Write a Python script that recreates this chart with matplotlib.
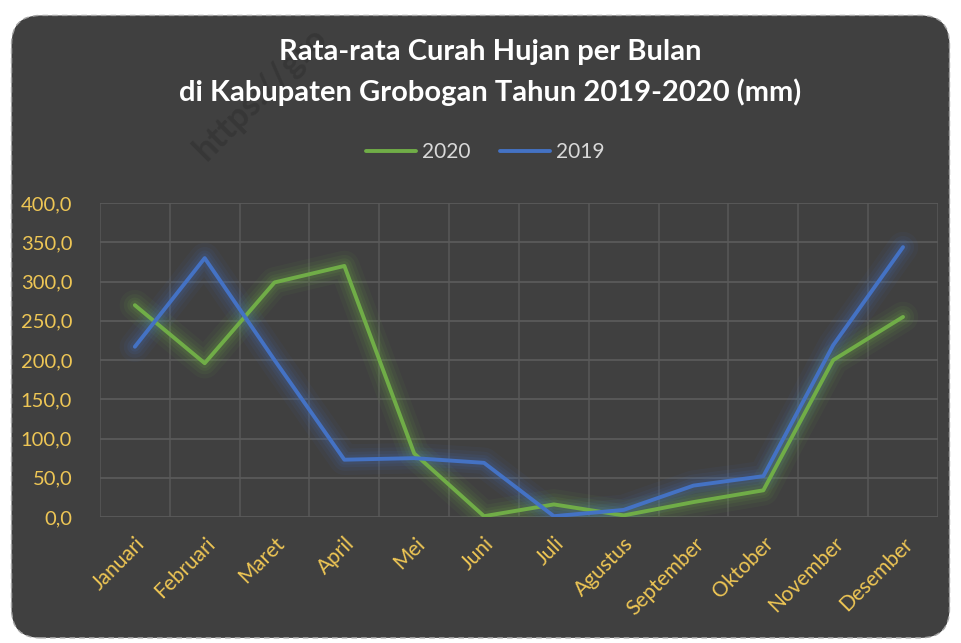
import matplotlib
matplotlib.use("Agg")
import matplotlib.pyplot as plt
from matplotlib.patches import FancyBboxPatch

months = ["Januari", "Februari", "Maret", "April", "Mei", "Juni", "Juli",
          "Agustus", "September", "Oktober", "November", "Desember"]
rain_2020 = [270, 196, 299, 320, 81, 1, 16, 2, 19, 34, 200, 255]
rain_2019 = [217, 330, 200, 73, 75, 69, 1, 9, 40, 52, 219, 344]
yticks = [0, 50, 100, 150, 200, 250, 300, 350, 400]

bg = "#404040"
gold = "#eec655"
green = "#70ad47"
blue = "#4472c4"

plt.rcParams['font.family'] = ['Lato', 'DejaVu Sans']

fig = plt.figure(figsize=(9.61, 6.43), dpi=100)
fig.patch.set_facecolor("white")

# rounded dark card behind everything
card = FancyBboxPatch((0.012, 0.008), 0.976, 0.968,
                      boxstyle="round,pad=0,rounding_size=0.03",
                      transform=fig.transFigure, facecolor=bg,
                      edgecolor="#a6a6a6", linestyle=(0, (4, 3)), linewidth=1.0,
                      mutation_aspect=961 / 643, zorder=-10)
fig.add_artist(card)

ax = fig.add_axes([0.104, 0.196, 0.872, 0.488])
ax.set_facecolor(bg)
x = list(range(len(months)))

# soft glow behind each line
for series, col in [(rain_2020, green), (rain_2019, blue)]:
    for w, a in [(22, 0.06), (16, 0.08), (11, 0.10), (7, 0.12)]:
        ax.plot(x, series, color=col, lw=w, alpha=a, solid_capstyle="round",
                solid_joinstyle="round", zorder=2)

ax.plot(x, rain_2020, color=green, lw=2.8, label="2020", zorder=3,
        solid_capstyle="round")
ax.plot(x, rain_2019, color=blue, lw=2.8, label="2019", zorder=4,
        solid_capstyle="round")

ax.set_xlim(-0.5, len(months) - 0.5)
ax.set_ylim(0, 400)
ax.set_yticks(yticks)
ax.set_yticklabels([f"{v:.1f}".replace(".", ",") for v in yticks],
                   color=gold, fontsize=14.5)
ax.set_xticks(x)
ax.set_xticklabels(months, rotation=45, ha="right", rotation_mode="anchor",
                   color=gold, fontsize=15)
ax.set_xticks([i - 0.5 for i in range(len(months) + 1)], minor=True)
ax.tick_params(axis="both", which="both", length=0)
ax.tick_params(axis="y", pad=20)
ax.tick_params(axis="x", pad=12)
ax.grid(True, axis="y", color="#5a5a5a", lw=1.3, zorder=0)
ax.grid(True, axis="x", which="minor", color="#555555", lw=1.3, zorder=0)
for s in ax.spines.values():
    s.set_visible(False)

fig.text(0.51, 0.919, "Rata-rata Curah Hujan per Bulan", ha="center", va="center",
         color="white", fontsize=21, fontweight="bold")
fig.text(0.51, 0.857, "di Kabupaten Grobogan Tahun 2019-2020 (mm)",
         ha="center", va="center", color="white", fontsize=21, fontweight="bold")

leg = fig.legend(loc="center", bbox_to_anchor=(0.505, 0.763), ncol=2, frameon=False,
                 fontsize=15, handlelength=2.4, columnspacing=1.4, handletextpad=0.3)
for t in leg.get_texts():
    t.set_color("#d9d9d9")

# faint watermark
fig.text(0.215, 0.748, "https://gro", rotation=45, ha="left", va="baseline",
         rotation_mode="anchor", color="black", fontsize=25, fontweight="bold",
         alpha=0.14, zorder=-5)

fig.savefig("out.png", dpi=100, facecolor="white")
